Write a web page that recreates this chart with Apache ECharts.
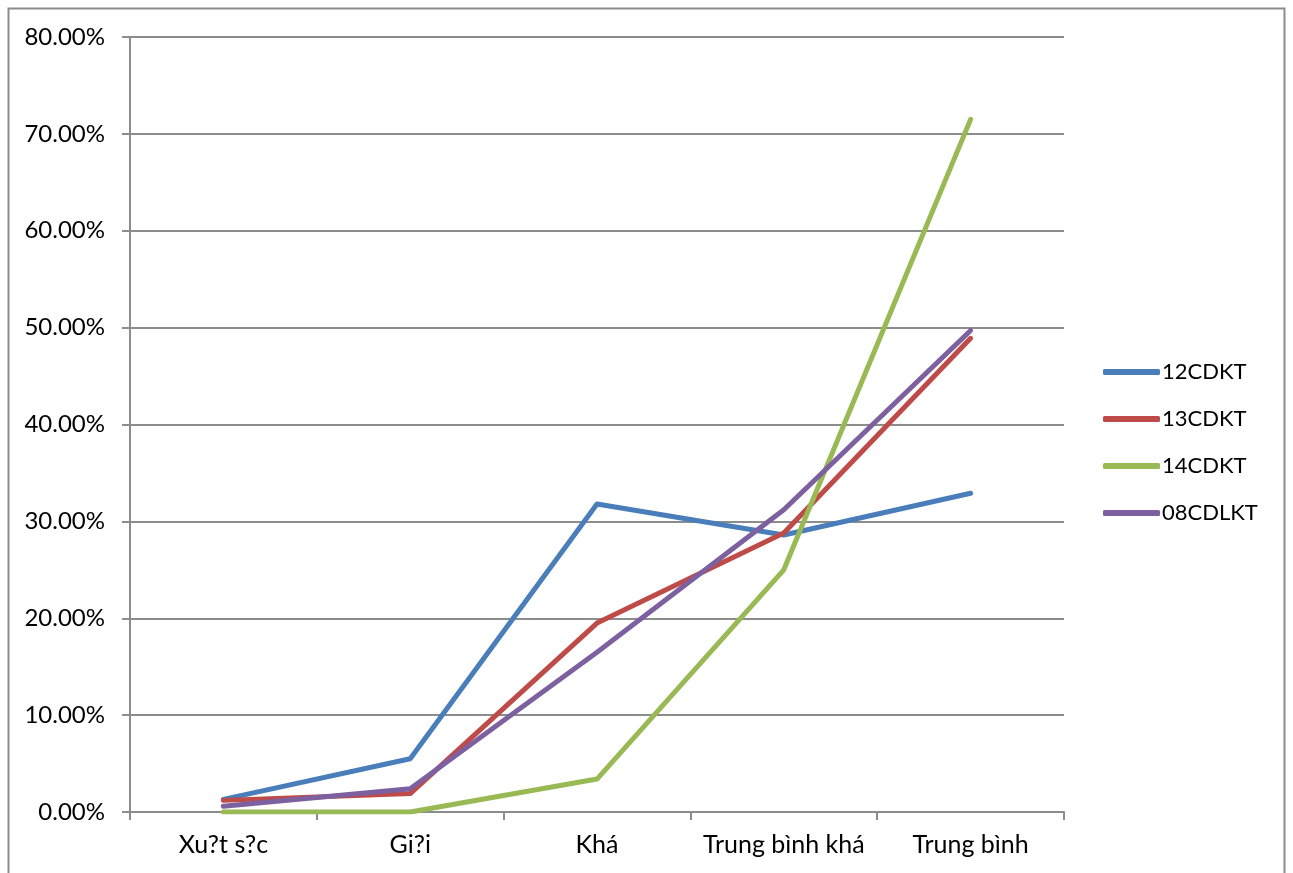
<!DOCTYPE html>
<html>
<head>
<meta charset="utf-8">
<script src="https://cdn.jsdelivr.net/npm/echarts@6/dist/echarts.min.js"></script>
<style>
  html, body { margin: 0; padding: 0; background: #fff; }
  #chart { width: 1293px; height: 873px; }
</style>
</head>
<body>
<div id="chart"></div>
<script>
// Grade categories (labels as exported, with lost diacritics)
const categories = ['Xu?t s?c', 'Gi?i', 'Khá', 'Trung bình khá', 'Trung bình'];

// Share of students per grade, in percent
const s12CDKT  = [1.3, 5.5, 31.8, 28.6, 32.9];
const s13CDKT  = [1.2, 1.9, 19.5, 28.8, 48.9];
const s14CDKT  = [0.0, 0.0, 3.4, 25.0, 71.5];
const s08CDLKT = [0.6, 2.4, 16.5, 31.2, 49.7];

const seriesNames = ['12CDKT', '13CDKT', '14CDKT', '08CDLKT'];
const seriesColors = ['#4a7ebb', '#be4b48', '#98b954', '#7d60a0'];
const seriesData = [s12CDKT, s13CDKT, s14CDKT, s08CDLKT];

const FONT = 'Lato, "Open Sans", sans-serif';

const chart = echarts.init(document.getElementById('chart'), null, { renderer: 'canvas' });

chart.setOption({
  animation: false,
  backgroundColor: '#ffffff',
  textStyle: { fontFamily: FONT },
  graphic: [{
    type: 'rect',
    shape: { x: 8.5, y: 8.5, width: 1276, height: 880 },
    style: { fill: 'none', stroke: '#8c8c8c', lineWidth: 2 },
    silent: true, z: -1
  }],
  grid: { left: 130, right: 229, top: 37, bottom: 61 },
  legend: {
    orient: 'vertical',
    left: 1098,
    top: 356,
    itemWidth: 57,
    itemHeight: 6,
    itemGap: 25,
    icon: 'roundRect',
    textStyle: { fontFamily: FONT, fontSize: 22, color: '#000', padding: [0, 0, 0, -3] },
    data: seriesNames
  },
  xAxis: {
    type: 'category',
    data: categories,
    boundaryGap: true,
    axisLine: { lineStyle: { color: '#8c8c8c', width: 2 } },
    axisTick: { show: true, alignWithLabel: false, length: 8, lineStyle: { color: '#8c8c8c', width: 2 } },
    axisLabel: { fontFamily: FONT, fontSize: 25, color: '#000', margin: 20, interval: 0 },
    splitLine: { show: false }
  },
  yAxis: {
    type: 'value',
    min: 0,
    max: 80,
    interval: 10,
    axisLine: { show: true, lineStyle: { color: '#8c8c8c', width: 2 } },
    axisTick: { show: true, length: 8, lineStyle: { color: '#8c8c8c', width: 2 } },
    axisLabel: {
      fontFamily: FONT, fontSize: 24, color: '#000', margin: 25,
      formatter: v => v.toFixed(2) + '%'
    },
    splitLine: { show: true, lineStyle: { color: '#8c8c8c', width: 2 } }
  },
  series: seriesNames.map((name, i) => ({
    name: name,
    type: 'line',
    data: seriesData[i],
    color: seriesColors[i],
    symbol: 'none',
    lineStyle: { width: 5, color: seriesColors[i], cap: 'round', join: 'round' },
    itemStyle: { color: seriesColors[i] }
  }))
});
</script>
</body>
</html>
